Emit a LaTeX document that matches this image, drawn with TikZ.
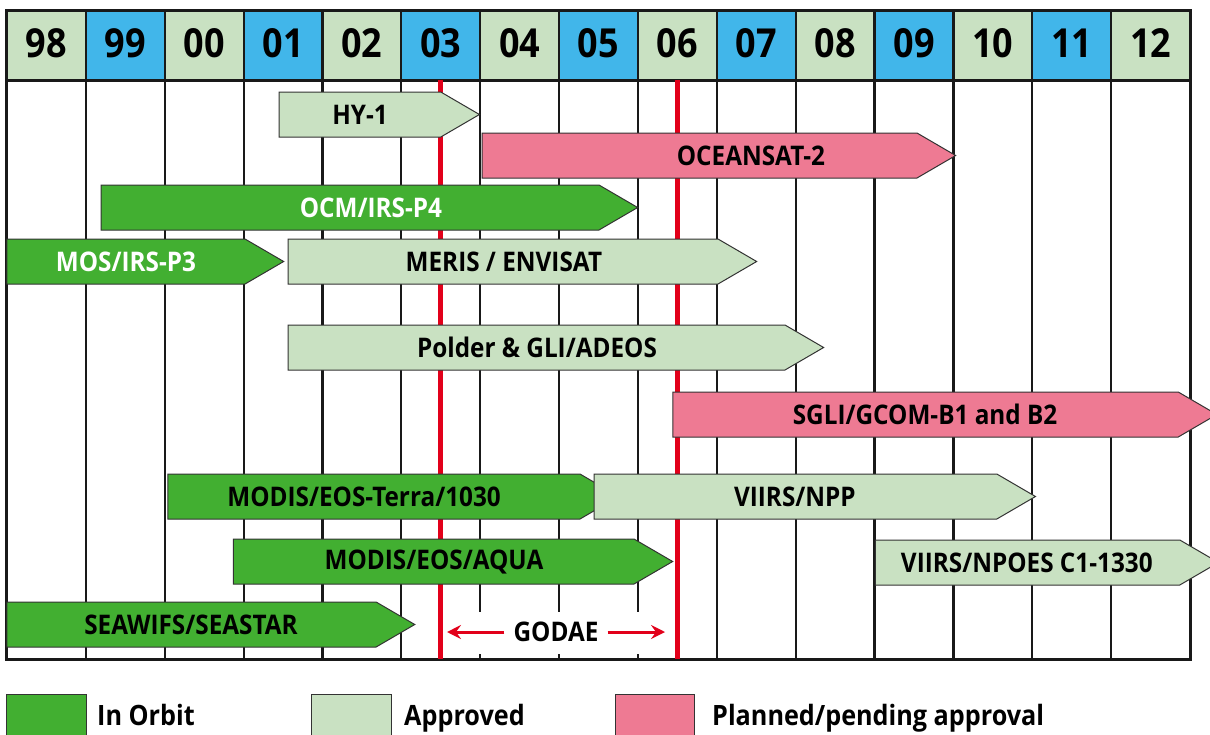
\documentclass[tikz,border=0pt]{standalone}
\usepackage{fontspec}
\setmainfont{Open Sans}[FakeStretch=0.9]
\usepackage{xcolor}
\usepackage{tikz}
\usetikzlibrary{arrows.meta}
\definecolor{approved}{HTML}{C9E1C2}
\definecolor{hdrblue}{HTML}{41B6EA}
\definecolor{orbit}{HTML}{42AF31}
\definecolor{planned}{HTML}{EE7A93}
\definecolor{godaered}{HTML}{E2001A}

\begin{document}
\begin{tikzpicture}[x=78.87pt,y=-1pt,
  grid/.style={black!90,line width=2.2pt},
  frame/.style={black!90,line width=3pt},
  bar/.style={draw=black!80,line width=1pt,line join=miter},
  lbl/.style={font=\bfseries\fontsize{27}{27}\selectfont,inner sep=0pt},
  yearlbl/.style={font=\bfseries\fontsize{40}{40}\selectfont,inner sep=0pt},
  leglbl/.style={font=\bfseries\fontsize{28}{28}\selectfont,inner sep=0pt,anchor=base west},
  >={Stealth[length=14pt,width=14pt,inset=5pt]}]
  \useasboundingbox (-0.08875,0) rectangle (15.253,734);
  % year header
  \foreach \yr/\c [count=\i from 0] in {98/approved,99/hdrblue,00/approved,01/hdrblue,02/approved,
     03/hdrblue,04/approved,05/hdrblue,06/approved,07/hdrblue,08/approved,09/hdrblue,10/approved,
     11/hdrblue,12/approved}{
     \fill[\c] (\i,10) rectangle (\i+1,80);
     \node[yearlbl] (y\yr) at (\i+0.5,43) {\yr};}
  % grid
  \foreach \i in {1,...,14}{\draw[grid] (\i,10) -- (\i,659);}
  \draw[frame] (0,10) rectangle (15,659);
  \draw[frame] (0,80) -- (15,80);
  \fill[white] (5.56,612) rectangle (8.46,654);
  % GODAE period
  \draw[godaered,line width=5pt] (5.5,80) -- (5.5,659);
  \draw[godaered,line width=5pt] (8.5,80) -- (8.5,659);
  % missions
  \foreach \xs/\xe/\yt/\col/\tc/\lx/\txt/\nm in {
     3.449/5.5/92/approved/black/4.476/{HY-1}/hy,
     6.023/11.538/133/planned/black/9.433/{OCEANSAT-2}/oceansat,
     1.192/7.506/185/orbit/white/4.615/{OCM/IRS-P4}/ocm,
     0/3.018/239/orbit/white/1.509/{MOS/IRS-P3}/mos,
     3.563/9.015/239/approved/black/6.30/{MERIS / ENVISAT}/meris,
     3.563/9.864/325/approved/black/6.72/{Polder \& GLI/ADEOS}/polder,
     8.444/14.85/392/planned/black/11.64/{SGLI/GCOM-B1 and B2}/sgli,
     2.04/7.265/474/orbit/black/4.527/{MODIS/EOS-Terra/1030}/terra,
     7.443/12.55/474/approved/black/9.99/{VIIRS/NPP}/npp,
     2.87/7.95/539/orbit/black/5.414/{MODIS/EOS/AQUA}/aqua,
     11.01/14.87/540/approved/black/12.93/{VIIRS/NPOES C1-1330}/npoes,
     0/4.68/602/orbit/black/2.333/{SEAWIFS/SEASTAR}/seawifs}{
     \draw[bar,fill=\col] (\xs,\yt) -- (\xe,\yt) -- ++(0.49,22.5) -- (\xe,\yt+45) -- (\xs,\yt+45) -- cycle;
     \node[lbl,text=\tc] (\nm) at (\lx,\yt+22.5) {\txt};}
  \node[lbl,inner xsep=9pt] (godae) at (6.961,632) {GODAE};
  \coordinate (gl) at (5.579,632);
  \coordinate (gr) at (8.343,632);
  \draw[->,godaered,line width=3pt] (godae) -- (gl);
  \draw[->,godaered,line width=3pt] (godae) -- (gr);
  % legend
  \draw[bar,fill=orbit] (0,694) rectangle (1.014,740);
  \draw[bar,fill=approved] (3.867,694) rectangle (4.869,740);
  \draw[bar,fill=planned] (7.709,694) rectangle (8.723,740);
  \node[leglbl] (inorbit) at (1.141,725) {In Orbit};
  \node[leglbl] (appr) at (5.034,725) {Approved};
  \node[leglbl] (plan) at (8.939,725) {Planned/pending approval};
\end{tikzpicture}
\end{document}
